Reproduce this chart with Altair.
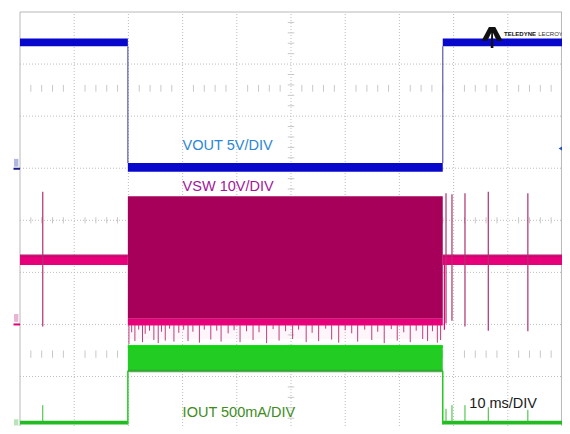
import altair as alt
import pandas as pd

# Horizontal: time in ms (10 ms/DIV, 10 divisions). Vertical: screen divisions from bottom (0..8)
T_ON, T_OFF = 19.9, 78.0

# ---- VOUT (blue) band levels ----
vout_high = [7.34, 7.49]
vout_low = [4.93, 5.10]

# ---- VSW (magenta) ----
vsw_idle = [3.14, 3.33]
vsw_block = [2.11, 4.46]
vsw_edge = [1.98, 2.11]
vsw_fringe = [1.72, 1.98]
vsw_spike_t = [4.2, 78.6, 79.7, 82.1, 86.4, 93.7]
vsw_spike_top = [4.55, 4.52, 4.50, 4.52, 4.55, 4.52]
vsw_spike_bot = [1.96, 2.02, 2.07, 1.96, 1.88, 1.87]
# downward ringing spikes under the switching block
fringe_t = [20.1, 20.6, 21.2, 21.9, 22.6, 23.1, 23.9, 24.7, 25.5, 26.1, 26.8, 27.6, 28.4,
            29.3, 30.2, 31.0, 31.9, 33.1, 34.0, 35.2, 36.3, 37.1, 38.4, 39.5, 40.6, 41.8,
            43.0, 44.1, 45.5, 46.7, 47.8, 49.0, 50.3, 51.4, 52.8, 53.9, 55.1, 56.4, 57.5,
            58.8, 60.0, 61.2, 62.3, 63.6, 64.9, 66.0, 67.2, 68.5, 69.6, 70.8, 72.0, 73.1,
            74.3, 75.2, 76.1, 77.0, 77.6]
fringe_v = [1.62, 1.85, 1.68, 1.90, 1.66, 1.82, 1.88, 1.70, 1.64, 1.86, 1.69, 1.92, 1.67,
            1.84, 1.90, 1.68, 1.86, 1.65, 1.90, 1.71, 1.88, 1.67, 1.83, 1.89, 1.66, 1.87,
            1.70, 1.85, 1.64, 1.91, 1.69, 1.87, 1.72, 1.90, 1.66, 1.84, 1.68, 1.92, 1.71,
            1.65, 1.89, 1.83, 1.67, 1.90, 1.70, 1.86, 1.64, 1.91, 1.69, 1.85, 1.66, 1.88,
            1.72, 1.68, 1.87, 1.65, 1.70]

# ---- IOUT (green) ----
iout_base = [0.08, 0.15]
iout_band = [1.11, 1.60]
iout_spike_t = [4.2, 78.6, 79.7, 82.1, 86.4, 93.7]
iout_spike_top = [0.45, 0.38, 0.45, 0.45, 0.41, 0.36]

# ---- labels ----
labels = ["VOUT 5V/DIV", "VSW 10V/DIV", "IOUT 500mA/DIV", "10 ms/DIV"]
label_t = [30.0, 30.0, 30.0, 82.9]
label_v = [5.35, 4.56, 0.22, 0.40]
label_col = ["#2b86d6", "#a2169c", "#3d8c1c", "#1a1a1a"]

BLUE, BLUE_LINE = "#0808cc", "#5a5aa8"
MAROON, PINK = "#a6005a", "#e6007a"
GREEN, GREEN_BASE = "#22cc22", "#22bb22"
GRID = "#bdbdbd"
BORDER = "#b8b8b8"

xs = alt.Scale(domain=[0, 100], nice=False, zero=False)
ys = alt.Scale(domain=[0.05, 8], nice=False, zero=False)


def X(f):
    return alt.X(f, type="quantitative", scale=xs, axis=None)


def Y(f):
    return alt.Y(f, type="quantitative", scale=ys, axis=None)


# ---------- graticule ----------
grid_rows = []
for t in range(10, 100, 10):
    grid_rows.append(dict(t0=t, t1=t, v0=0.05, v1=8))
for v in range(1, 8):
    grid_rows.append(dict(t0=0, t1=100, v0=v, v1=v))
grid = alt.Chart(pd.DataFrame(grid_rows)).mark_rule(
    color=GRID, strokeWidth=1, strokeDash=[1, 2]
).encode(x=X("t0"), x2="t1", y=Y("v0"), y2="v1")

border = alt.Chart(pd.DataFrame([
    dict(t0=0, t1=0, v0=0.05, v1=8),
    dict(t0=99.9, t1=99.9, v0=0.05, v1=8),
    dict(t0=0, t1=100, v0=8, v1=8),
])).mark_rule(color=BORDER, strokeWidth=1).encode(x=X("t0"), x2="t1", y=Y("v0"), y2="v1")

tick_rows = []
for i in range(1, 50):
    if i % 5:
        t = i * 2
        tick_rows.append(dict(t0=t, t1=t, v0=3.94, v1=4.06))
        tick_rows.append(dict(t0=t, t1=t, v0=6.47, v1=6.60))
        tick_rows.append(dict(t0=t, t1=t, v0=1.36, v1=1.50))
for i in range(1, 40):
    if i % 5:
        v = i * 0.2
        tick_rows.append(dict(t0=49.4, t1=50.6, v0=v, v1=v))
ticks = alt.Chart(pd.DataFrame(tick_rows)).mark_rule(
    color="#c8c8c8", strokeWidth=1
).encode(x=X("t0"), x2="t1", y=Y("v0"), y2="v1")

# ---------- bands (rects) ----------
rects = [
    # VSW idle + block
    dict(t0=0, t1=T_ON, v0=vsw_idle[0], v1=vsw_idle[1], c=PINK, o=1.0),
    dict(t0=0, t1=T_ON, v0=vsw_idle[1] - 0.025, v1=vsw_idle[1] + 0.02, c=MAROON, o=0.6),
    dict(t0=T_OFF, t1=100, v0=vsw_idle[0], v1=vsw_idle[1], c=PINK, o=1.0),
    dict(t0=T_OFF, t1=100, v0=vsw_idle[1] - 0.025, v1=vsw_idle[1] + 0.02, c=MAROON, o=0.6),
    dict(t0=T_ON, t1=T_OFF, v0=vsw_fringe[0], v1=vsw_fringe[1], c="#f3b6d3", o=0.12),
    dict(t0=T_ON, t1=T_OFF, v0=vsw_block[0], v1=vsw_block[1], c=MAROON, o=1.0),
    dict(t0=T_ON, t1=T_OFF, v0=vsw_edge[0], v1=vsw_edge[1], c=PINK, o=1.0),
    # IOUT
    dict(t0=0, t1=T_ON, v0=iout_base[0], v1=iout_base[1], c=GREEN_BASE, o=1.0),
    dict(t0=T_OFF, t1=100, v0=iout_base[0], v1=iout_base[1], c=GREEN_BASE, o=1.0),
    dict(t0=T_ON, t1=T_OFF, v0=iout_band[0], v1=iout_band[1], c=GREEN, o=1.0),
    dict(t0=T_ON, t1=T_OFF, v0=iout_band[1] - 0.05, v1=iout_band[1], c="#0fd60f", o=1.0),
    dict(t0=T_ON, t1=T_OFF, v0=iout_band[0] - 0.03, v1=iout_band[0] + 0.02, c="#2a9a2a", o=0.8),
    # VOUT
    dict(t0=0, t1=T_ON, v0=vout_high[0], v1=vout_high[1], c=BLUE, o=1.0),
    dict(t0=T_ON, t1=T_OFF, v0=vout_low[0], v1=vout_low[1], c=BLUE, o=1.0),
    dict(t0=T_OFF, t1=100, v0=vout_high[0], v1=vout_high[1], c=BLUE, o=1.0),
    # left channel markers
    dict(t0=-1.1, t1=-0.3, v0=5.03, v1=5.18, c="#9aa6d8", o=0.8),
    dict(t0=-1.1, t1=-0.3, v0=2.05, v1=2.20, c="#e6a0c8", o=0.8),
    dict(t0=-1.1, t1=-0.3, v0=0.06, v1=0.18, c="#a8dca8", o=0.8),
]
bands = alt.Chart(pd.DataFrame(rects)).mark_rect().encode(
    x=X("t0"), x2="t1", y=Y("v0"), y2="v1",
    color=alt.Color("c:N", scale=None), opacity=alt.Opacity("o:Q", scale=None),
)

# ---------- thin lines ----------
lines = []
for t, top, bot in zip(vsw_spike_t, vsw_spike_top, vsw_spike_bot):
    lines.append(dict(t0=t, t1=t, v0=bot, v1=top, c="#b0306e", w=1.2))
for t, v in zip(fringe_t, fringe_v):
    lines.append(dict(t0=t, t1=t, v0=v, v1=1.99, c="#b8407a", w=1.0))
for t, top in zip(iout_spike_t, iout_spike_top):
    lines.append(dict(t0=t, t1=t, v0=0.1, v1=top, c="#33bb33", w=1.0))
lines += [
    dict(t0=T_ON, t1=T_ON, v0=vout_low[1], v1=vout_high[0], c=BLUE_LINE, w=1.2),
    dict(t0=T_OFF, t1=T_OFF, v0=vout_low[1], v1=vout_high[0], c=BLUE_LINE, w=1.2),
    dict(t0=T_ON, t1=T_ON, v0=iout_base[0], v1=iout_band[0], c="#22cc22", w=1.5),
    dict(t0=T_OFF, t1=T_OFF, v0=iout_base[0], v1=iout_band[0], c="#22cc22", w=1.5),
    dict(t0=T_OFF + 0.3, t1=T_OFF + 0.3, v0=1.90, v1=3.3, c=PINK, w=1.2),
    dict(t0=-1.2, t1=0, v0=4.99, v1=4.99, c="#1a1a8a", w=2),
    dict(t0=-1.2, t1=0, v0=2.00, v1=2.00, c=PINK, w=2),
]
thin = alt.Chart(pd.DataFrame(lines)).mark_rule().encode(
    x=X("t0"), x2="t1", y=Y("v0"), y2="v1",
    color=alt.Color("c:N", scale=None), strokeWidth=alt.StrokeWidth("w:Q", scale=None),
)

# ---------- labels ----------
txt = alt.Chart(pd.DataFrame(dict(label=labels, t=label_t, v=label_v, c=label_col))).mark_text(
    align="left", baseline="alphabetic", font="Liberation Sans", fontSize=14.5
).encode(x=X("t"), y=Y("v"), text="label:N", color=alt.Color("c:N", scale=None))

# ---------- logo ----------
logo_path = ("M-1,0.3 L-0.3,-1 L0.3,-1 L1,0.3 L0.45,0.3 L0.08,-0.45 L0.13,1 "
             "L-0.13,1 L-0.08,-0.45 L-0.45,0.3 Z")
logo = alt.Chart(pd.DataFrame(dict(t=[87.1], v=[7.51]))).mark_point(
    shape=logo_path, filled=True, color="#111111", opacity=1, size=440
).encode(x=X("t"), y=Y("v"))
brand1 = alt.Chart(pd.DataFrame(dict(t=[89.3], v=[7.54], s=["TELEDYNE"]))).mark_text(
    align="left", baseline="alphabetic", fontWeight="bold", fontSize=6,
    font="Liberation Sans", color="#111111"
).encode(x=X("t"), y=Y("v"), text="s:N")
brand2 = alt.Chart(pd.DataFrame(dict(t=[95.6], v=[7.54], s=["LECROY"]))).mark_text(
    align="left", baseline="alphabetic", fontSize=6,
    font="Liberation Sans", color="#333333"
).encode(x=X("t"), y=Y("v"), text="s:N")

# right-hand trigger marker
marker = alt.Chart(pd.DataFrame(dict(t=[99.75], v=[5.38]))).mark_point(
    shape="triangle-left", filled=True, color="#2050c8", opacity=1, size=22
).encode(x=X("t"), y=Y("v"))

chart = alt.layer(grid, ticks, border, bands, thin, txt, logo, brand1, brand2, marker).properties(
    width=542, height=414,
    autosize=alt.AutoSizeParams(type="none"),
    padding={"left": 12, "top": 4, "right": 0, "bottom": 0},
    background="white",
).configure_view(strokeWidth=0)

chart.save("out.html", embed_options={"renderer": "svg", "actions": False})
